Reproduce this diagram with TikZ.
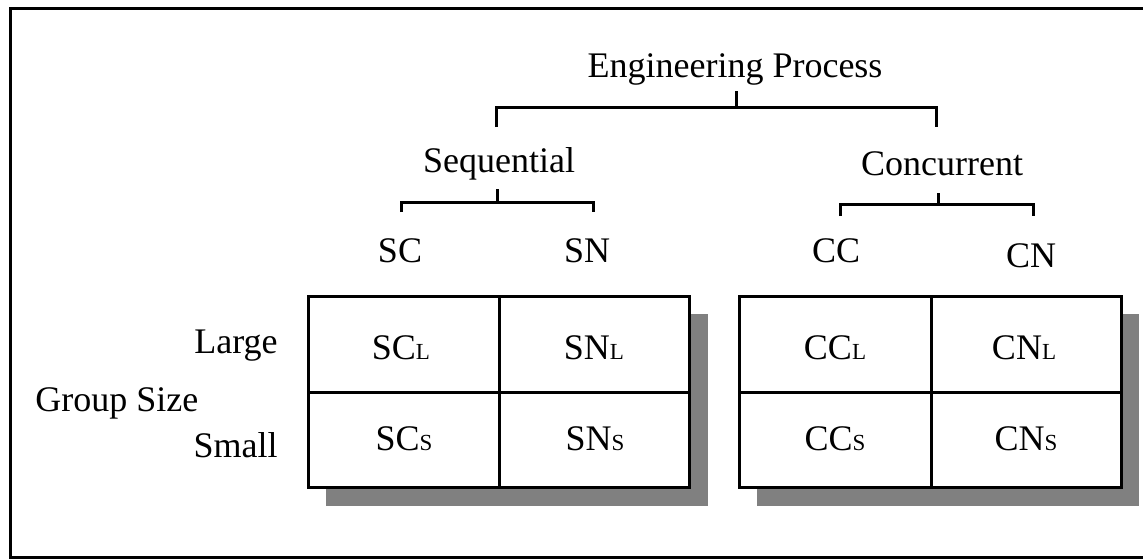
\documentclass[tikz,border=0pt]{standalone}
\usepackage{fontspec}
\setmainfont{Liberation Serif}
\definecolor{shadowgray}{HTML}{808080}
\newcommand{\lowcap}[1]{{\fontsize{11.5pt}{12pt}\selectfont #1}}
\begin{document}
\begin{tikzpicture}[x=0.5pt, y=-0.5pt,
    every node/.style={font=\fontsize{18pt}{20pt}\selectfont, inner sep=0pt},
    lbl/.style={anchor=base},
    bracket/.style={line width=1.5pt},
    gridline/.style={line width=1.5pt},
    shadowbox/.style={fill=shadowgray},
  ]
  \useasboundingbox (0,0) rectangle (1143,559);
  \clip (0,0) rectangle (1143,559);

  % outer frame (its right side runs off the page)
  \draw[line width=1.5pt] (10,8) rectangle (1180,557);

  % hierarchy labels
  \node[lbl] (ep)  at (735,77)  {Engineering Process};
  \node[lbl] (seq) at (499,172) {Sequential};
  \node[lbl] (con) at (942,175) {Concurrent};
  \node[lbl] (sc)  at (400,262) {SC};
  \node[lbl] (sn)  at (587,262) {SN};
  \node[lbl] (cc)  at (836,262) {CC};
  \node[lbl] (cn)  at (1031,267) {CN};

  % bracket junctions
  \coordinate (epstem) at (736,91);
  \coordinate (epbar)  at (736,107);
  \coordinate (seqtop) at (496,127);
  \coordinate (contop) at (936,127);
  \coordinate (seqstem) at (497,189);
  \coordinate (seqbar)  at (497,202);
  \coordinate (sctop)   at (401,212);
  \coordinate (sntop)   at (593,212);
  \coordinate (constem) at (938,193);
  \coordinate (conbar)  at (938,204);
  \coordinate (cctop)   at (840,216);
  \coordinate (cntop)   at (1033,216);

  \draw[bracket] (epstem) -- (epbar);
  \draw[bracket] (seqtop) |- (epbar) -| (contop);
  \draw[bracket] (seqstem) -- (seqbar);
  \draw[bracket] (sctop) |- (seqbar) -| (sntop);
  \draw[bracket] (constem) -- (conbar);
  \draw[bracket] (cctop) |- (conbar) -| (cntop);

  % sequential table with drop shadow
  \fill[shadowbox] (326,314) rectangle (708,506);
  \draw[gridline, fill=white] (308,296) rectangle (689,487);
  \draw[gridline] (499,296) -- (499,487);
  \draw[gridline] (308,392) -- (689,392);

  % concurrent table with drop shadow
  \fill[shadowbox] (757,314) rectangle (1139,506);
  \draw[gridline, fill=white] (739,296) rectangle (1121,487);
  \draw[gridline] (931,296) -- (931,487);
  \draw[gridline] (739,392) -- (1121,392);

  % cell entries
  \node[lbl] (scl) at (401,359) {SC\lowcap{L}};
  \node[lbl] (snl) at (594,359) {SN\lowcap{L}};
  \node[lbl] (scs) at (404,450) {SC\lowcap{S}};
  \node[lbl] (sns) at (595,450) {SN\lowcap{S}};
  \node[lbl] (ccl) at (835,359) {CC\lowcap{L}};
  \node[lbl] (cnl) at (1024,359) {CN\lowcap{L}};
  \node[lbl] (ccs) at (835,450) {CC\lowcap{S}};
  \node[lbl] (cns) at (1026,450) {CN\lowcap{S}};

  % group size axis
  \node[anchor=base east] (large) at (278,353) {Large};
  \node[anchor=base west] (gsize) at (35,411)  {Group Size};
  \node[anchor=base east] (small) at (278,457) {Small};
\end{tikzpicture}
\end{document}
